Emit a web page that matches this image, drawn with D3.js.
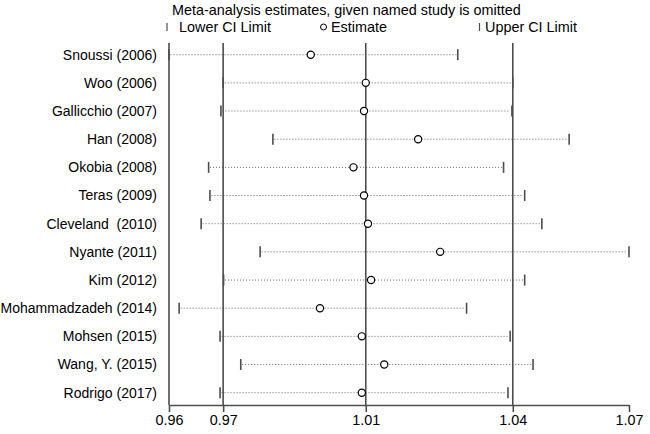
<!DOCTYPE html>
<html>
<head>
<meta charset="utf-8">
<style>
  body { margin: 0; background: #fff; }
  svg { display: block; font-family: "Liberation Sans", Arial, sans-serif; }
  svg text { white-space: pre; }
</style>
</head>
<body>
<div id="chart"></div>
<script src="https://cdn.jsdelivr.net/npm/d3@7"></script>
<script>
// studies, top to bottom
const studies = ["Snoussi (2006)", "Woo (2006)", "Gallicchio (2007)", "Han (2008)", "Okobia (2008)",
  "Teras (2009)", "Cleveland  (2010)", "Nyante (2011)", "Kim (2012)", "Mohammadzadeh (2014)",
  "Mohsen (2015)", "Wang, Y. (2015)", "Rodrigo (2017)"];
const estimate = [0.9944, 1.0069, 1.0065, 1.0188, 1.0041, 1.0065, 1.0074, 1.0238, 1.0081, 0.9965, 1.0060, 1.0111, 1.0060];
const lowerCI  = [0.9622, 0.9745, 0.9740, 0.9858, 0.9712, 0.9715, 0.9695, 0.9829, 0.9746, 0.9645, 0.9738, 0.9785, 0.9738];
const upperCI  = [1.0278, 1.0403, 1.0401, 1.0531, 1.0382, 1.0430, 1.0469, 1.0667, 1.0430, 1.0298, 1.0397, 1.0449, 1.0392];
// axis: min lower, overall lower, overall estimate, overall upper, max upper
const tickVals = [0.9622, 0.9745, 1.0069, 1.0403, 1.0667];
const refLines = [0.9622, 0.9745, 1.0069, 1.0403];

const width = 650, height = 434;
const lineCol = "#4d4d4d";
const fs = 14.4;

const svg = d3.select("#chart").append("svg")
  .attr("width", width).attr("height", height);

const x = d3.scaleLinear().domain([tickVals[0], tickVals[4]]).range([169, 629]);
const y = d3.scalePoint().domain(studies).range([54.7, 392.7]);
const plotTop = 43, axisY = 405;

const rows = studies.map((s, i) => ({ s, est: estimate[i], lo: lowerCI[i], hi: upperCI[i] }));

// title & legend
svg.append("text").attr("x", 172).attr("y", 15).attr("font-size", fs).text("Meta-analysis estimates, given named study is omitted");
const leg = svg.append("g");
leg.append("line").attr("x1", 167).attr("x2", 167).attr("y1", 23).attr("y2", 31).attr("stroke", lineCol).attr("stroke-width", 1.2);
leg.append("text").attr("x", 179).attr("y", 32).attr("font-size", fs).text("Lower CI Limit");
leg.append("circle").attr("cx", 323.5).attr("cy", 27).attr("r", 3).attr("fill", "#fff").attr("stroke", "#000").attr("stroke-width", 1);
leg.append("text").attr("x", 331).attr("y", 32).attr("font-size", fs).text("Estimate");
leg.append("line").attr("x1", 479.5).attr("x2", 479.5).attr("y1", 23).attr("y2", 31).attr("stroke", lineCol).attr("stroke-width", 1.2);
leg.append("text").attr("x", 485).attr("y", 32).attr("font-size", fs).text("Upper CI Limit");

// study labels
svg.append("g").selectAll("text").data(studies).join("text")
  .attr("x", 157).attr("y", d => y(d)).attr("dy", "0.35em")
  .attr("text-anchor", "end").attr("font-size", 14).text(d => d);

// dotted CI lines
svg.append("g").selectAll("line").data(rows).join("line")
  .attr("x1", d => x(d.lo) + 1.5).attr("x2", d => x(d.hi) - 1.5)
  .attr("y1", d => y(d.s)).attr("y2", d => y(d.s))
  .attr("stroke", "#666").attr("stroke-width", 1).attr("stroke-dasharray", "1,2");

// reference lines
svg.append("g").selectAll("line").data(refLines).join("line")
  .attr("x1", d => x(d)).attr("x2", d => x(d))
  .attr("y1", plotTop).attr("y2", axisY)
  .attr("stroke", lineCol).attr("stroke-width", 1.6);

// CI limit ticks
const ticks = svg.append("g").attr("stroke", lineCol).attr("stroke-width", 1.6);
ticks.selectAll(".lo").data(rows).join("line").attr("class", "lo")
  .attr("x1", d => x(d.lo)).attr("x2", d => x(d.lo))
  .attr("y1", d => y(d.s) - 5.5).attr("y2", d => y(d.s) + 5.5);
ticks.selectAll(".hi").data(rows).join("line").attr("class", "hi")
  .attr("x1", d => x(d.hi)).attr("x2", d => x(d.hi))
  .attr("y1", d => y(d.s) - 5.5).attr("y2", d => y(d.s) + 5.5);

// estimates
svg.append("g").selectAll("circle").data(rows).join("circle")
  .attr("cx", d => x(d.est)).attr("cy", d => y(d.s)).attr("r", 3.6)
  .attr("fill", "#fff").attr("stroke", "#000").attr("stroke-width", 1.2);

// x axis
const ax = svg.append("g").attr("transform", `translate(0,${axisY})`)
  .call(d3.axisBottom(x).tickValues(tickVals).tickFormat(d3.format(".2f")).tickSize(7).tickSizeOuter(0).tickPadding(3));
ax.select(".domain").attr("stroke", lineCol).attr("stroke-width", 1.6);
ax.selectAll(".tick line").attr("stroke", lineCol).attr("stroke-width", 1.6);
ax.selectAll(".tick text").attr("font-size", fs).attr("fill", "#000").attr("font-family", "Liberation Sans, Arial, sans-serif");
</script>
</body>
</html>
